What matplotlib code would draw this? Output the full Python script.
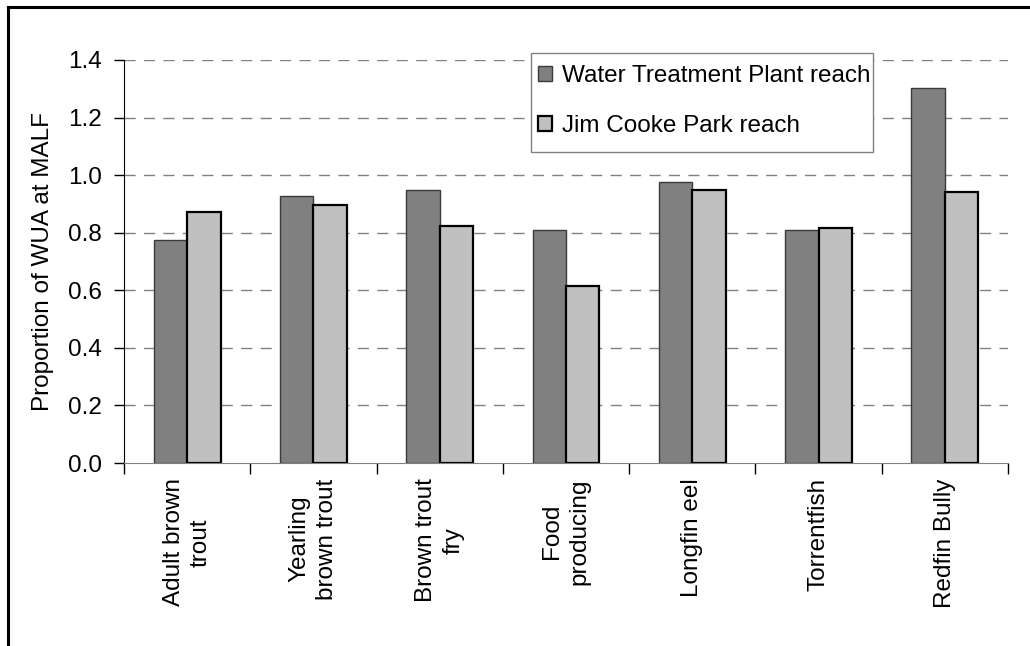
import matplotlib
matplotlib.use("Agg")
import matplotlib.pyplot as plt
from matplotlib.patches import Patch, Rectangle
from matplotlib.lines import Line2D
import numpy as np

plt.rcParams['font.family'] = ['Liberation Sans', 'DejaVu Sans']

categories = ["Adult brown\ntrout", "Yearling\nbrown trout", "Brown trout\nfry",
              "Food\nproducing", "Longfin eel", "Torrentfish", "Redfin Bully"]
wtp_reach = [0.775, 0.928, 0.950, 0.811, 0.977, 0.811, 1.304]
jcp_reach = [0.873, 0.896, 0.824, 0.616, 0.950, 0.818, 0.942]
series_names = ["Water Treatment Plant reach", "Jim Cooke Park reach"]
yticks = [0.0, 0.2, 0.4, 0.6, 0.8, 1.0, 1.2, 1.4]

FS = 17.5
W, H = 1030, 646
fig = plt.figure(figsize=(W / 100, H / 100), dpi=100)
ax = fig.add_axes([124 / W, 1 - 463 / H, (1008 - 124) / W, (463 - 60) / H])

x = np.arange(len(categories))
bw = 0.265
ax.bar(x - bw / 2, wtp_reach, width=bw, color="#808080", edgecolor="#3a3a3a",
       linewidth=1.0, zorder=3)
ax.bar(x + bw / 2, jcp_reach, width=bw, color="#c0c0c0", edgecolor="#000000",
       linewidth=1.6, zorder=3)

ax.set_xlim(-0.5, len(categories) - 0.5)
ax.set_ylim(0, 1.4)
ax.set_yticks(yticks)
ax.set_yticklabels([f"{v:.1f}" for v in yticks], fontsize=FS)
for v in yticks[1:]:
    ax.axhline(v, color="#808080", linestyle=(0, (8, 6)), linewidth=1.0, zorder=1)

ax.set_xticks(x)
ax.set_xticklabels(categories, rotation=90, fontsize=FS, ha="center", va="top",
                   multialignment="center", linespacing=1.3)
ax.set_xticks(np.arange(len(categories) + 1) - 0.5, minor=True)
ax.tick_params(axis="x", which="major", length=0, pad=11)
ax.tick_params(axis="x", which="minor", length=8, direction="out", color="#000000", width=1)
ax.tick_params(axis="y", length=7, direction="out", width=1, pad=9)

for s in ["top", "right"]:
    ax.spines[s].set_visible(False)
ax.spines["left"].set_color("#000000")
ax.spines["bottom"].set_color("#808080")
ax.spines["bottom"].set_zorder(4)

ax.set_ylabel("Proportion of WUA at MALF", fontsize=FS, labelpad=10)

# legend frame drawn manually
frame = Rectangle((531 / W, 1 - 152 / H), (873 - 531) / W, (152 - 53) / H,
                  transform=fig.transFigure, facecolor="white", edgecolor="#808080",
                  linewidth=1.0, zorder=5)
fig.add_artist(frame)

handles = [Patch(facecolor="#808080", edgecolor="#3a3a3a", linewidth=1.0),
           Patch(facecolor="#c0c0c0", edgecolor="#000000", linewidth=1.6)]
leg = fig.legend(handles, series_names, loc="upper left",
                 bbox_to_anchor=(538 / W, 1 - 65 / H), bbox_transform=fig.transFigure,
                 borderaxespad=0, fontsize=FS, frameon=False,
                 handlelength=0.58, handleheight=0.58, handletextpad=0.4,
                 labelspacing=1.15, borderpad=0.0)
leg.set_zorder(6)

# outer frame (top and left edges visible)
fig.add_artist(Line2D([8 / W, 1.0], [1 - 7 / H, 1 - 7 / H], transform=fig.transFigure,
                      color="black", linewidth=2.2))
fig.add_artist(Line2D([8 / W, 8 / W], [0, 1 - 7 / H], transform=fig.transFigure,
                      color="black", linewidth=2.2))

fig.savefig("out.png", dpi=100)
